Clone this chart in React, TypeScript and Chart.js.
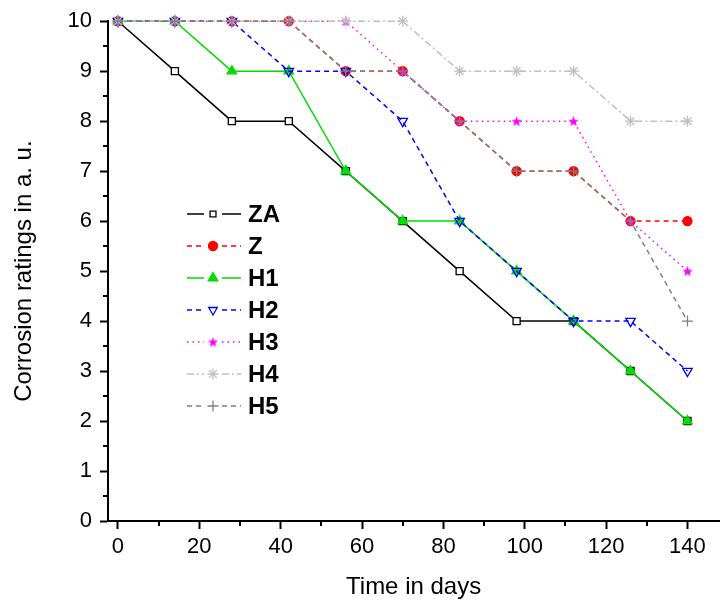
import React, { useEffect, useRef } from "react";
import { Chart, registerables } from "chart.js";
import { drawPoint } from "chart.js/helpers";

Chart.register(...registerables);

// ---- data ----
const days = [0, 14, 28, 42, 56, 70, 84, 98, 112, 126, 140];
const seriesNames = ["ZA", "Z", "H1", "H2", "H3", "H4", "H5"];
const za = [10, 9, 8, 8, 7, 6, 5, 4, 4, 3, 2];
const zz = [10, 10, 10, 10, 9, 9, 8, 7, 7, 6, 6];
const h1 = [10, 10, 9, 9, 7, 6, 6, 5, 4, 3, 2];
const h2 = [10, 10, 10, 9, 9, 8, 6, 5, 4, 4, 3];
const h3 = [10, 10, 10, 10, 10, 9, 8, 8, 8, 6, 5];
const h4 = [10, 10, 10, 10, 10, 10, 9, 9, 9, 8, 8];
const h5 = [10, 10, 10, 10, 9, 9, 8, 7, 7, 6, 4];
const seriesValues = [za, zz, h1, h2, h3, h4, h5];

const xTicks = [0, 20, 40, 60, 80, 100, 120, 140];
const xMinorTicks = [10, 30, 50, 70, 90, 110, 130];
const yTicks = [0, 1, 2, 3, 4, 5, 6, 7, 8, 9, 10];
const yMinorTicks = [0.5, 1.5, 2.5, 3.5, 4.5, 5.5, 6.5, 7.5, 8.5, 9.5];

const xTitle = "Time in days";
const yTitle = "Corrosion ratings in a. u.";

const FONT = "'Liberation Sans', Arial, Helvetica, sans-serif";

function makeStar(color: string, outer: number): HTMLCanvasElement {
  const size = Math.ceil(outer * 2 + 2);
  const c = document.createElement("canvas");
  c.width = size;
  c.height = size;
  const g = c.getContext("2d")!;
  const cx = size / 2;
  const cy = size / 2 + 0.5;
  const inner = outer * 0.42;
  g.beginPath();
  for (let i = 0; i < 10; i++) {
    const r = i % 2 === 0 ? outer : inner;
    const a = -Math.PI / 2 + (i * Math.PI) / 5;
    const px = cx + r * Math.cos(a);
    const py = cy + r * Math.sin(a);
    if (i === 0) g.moveTo(px, py);
    else g.lineTo(px, py);
  }
  g.closePath();
  g.fillStyle = color;
  g.fill();
  return c;
}

type Style = {
  color: string;
  dash: number[];
  pointStyle: any;
  radius: number;
  fill: string;
  rotation: number;
  legendRadius: number;
};

export default function App() {
  const ref = useRef<HTMLCanvasElement | null>(null);

  useEffect(() => {
    const canvas = ref.current;
    if (!canvas) return;

    const star = makeStar("#ff00ff", 5.5);
    const styles: Style[] = [
      { color: "#000000", dash: [], pointStyle: "rect", radius: 5, fill: "#ffffff", rotation: 0, legendRadius: 4.2 },
      { color: "#ff0000", dash: [5, 4], pointStyle: "circle", radius: 4.5, fill: "#ff0000", rotation: 0, legendRadius: 4.5 },
      { color: "#00dd00", dash: [], pointStyle: "triangle", radius: 5.5, fill: "#00dd00", rotation: 0, legendRadius: 5.5 },
      { color: "#0000ff", dash: [5, 4], pointStyle: "triangle", radius: 5.5, fill: "rgba(255,255,255,0)", rotation: 180, legendRadius: 5 },
      { color: "#ff00ff", dash: [1.5, 4], pointStyle: star, radius: 5.5, fill: "#ff00ff", rotation: 0, legendRadius: 5.5 },
      { color: "#c0c0c0", dash: [7, 3, 2, 3], pointStyle: "star", radius: 5.5, fill: "#c0c0c0", rotation: 0, legendRadius: 5.5 },
      { color: "#808080", dash: [5, 4], pointStyle: "cross", radius: 5.5, fill: "#808080", rotation: 0, legendRadius: 5.5 },
    ];

    const datasets = seriesNames.map((name, i) => ({
      label: name,
      data: days.map((d, k) => ({ x: d, y: seriesValues[i][k] })),
      borderColor: styles[i].color,
      backgroundColor: styles[i].fill,
      borderWidth: 1.5,
      borderDash: styles[i].dash,
      pointStyle: styles[i].pointStyle,
      pointRadius: styles[i].radius,
      pointRotation: styles[i].rotation,
      pointBorderColor: styles[i].color,
      pointBackgroundColor: styles[i].fill,
      pointBorderWidth: 1.3,
      pointHoverRadius: styles[i].radius,
      tension: 0,
      fill: false,
      clip: false as any,
      order: -i,
    }));

    const minorTicksPlugin = {
      id: "minorTicks",
      afterDraw(chart: any) {
        const ctx = chart.ctx;
        const xs = chart.scales.x;
        const ys = chart.scales.y;
        ctx.save();
        ctx.strokeStyle = "#000";
        ctx.lineWidth = 2;
        ctx.beginPath();
        for (const v of xMinorTicks) {
          const px = Math.round(xs.getPixelForValue(v));
          ctx.moveTo(px, ys.bottom);
          ctx.lineTo(px, ys.bottom + 5);
        }
        for (const v of yMinorTicks) {
          const py = Math.round(ys.getPixelForValue(v));
          ctx.moveTo(xs.left, py);
          ctx.lineTo(xs.left - 5, py);
        }
        ctx.stroke();
        ctx.restore();
      },
    };

    const legendPlugin = {
      id: "insideLegend",
      afterDraw(chart: any) {
        const ctx = chart.ctx;
        const lineL = 187;
        const lineR = 241;
        const mid = 213;
        const gap = 9;
        const textX = 248;
        const top = 214;
        const step = 32;
        ctx.save();
        chart.data.datasets.forEach((ds: any, i: number) => {
          const st = styles[i];
          const y = top + i * step;
          ctx.strokeStyle = st.color;
          ctx.lineWidth = 1.5;
          ctx.setLineDash(st.dash);
          ctx.beginPath();
          ctx.moveTo(lineL, y);
          ctx.lineTo(mid - gap, y);
          ctx.moveTo(mid + gap, y);
          ctx.lineTo(lineR, y);
          ctx.stroke();
          ctx.setLineDash([]);
          ctx.fillStyle = st.fill;
          ctx.strokeStyle = st.color;
          ctx.lineWidth = 1.3;
          drawPoint(ctx, {
            pointStyle: st.pointStyle,
            rotation: st.rotation,
            radius: st.legendRadius,
            borderWidth: 1.3,
          } as any, mid, y);
          ctx.fillStyle = "#000";
          ctx.font = `bold 24px ${FONT}`;
          ctx.textAlign = "left";
          ctx.textBaseline = "middle";
          ctx.fillText(ds.label, textX, y + 1);
        });
        ctx.restore();
      },
    };

    const chart = new Chart(canvas, {
      type: "line",
      data: { datasets: datasets as any },
      options: {
        responsive: false,
        animation: false,
        events: [],
        layout: { padding: { left: 0, top: 21, right: 2, bottom: 0 } },
        plugins: {
          legend: { display: false },
          tooltip: { enabled: false },
        },
        scales: {
          x: {
            type: "linear",
            min: -2.44,
            max: 147.8,
            afterBuildTicks: (scale: any) => {
              scale.ticks = xTicks.map((v) => ({ value: v }));
            },
            afterFit: (scale: any) => {
              scale.height = 87;
            },
            border: { display: true, color: "#000", width: 2 },
            grid: {
              display: true,
              drawOnChartArea: false,
              drawTicks: true,
              tickLength: 8,
              tickWidth: 2,
              tickColor: "#000",
            },
            ticks: {
              autoSkip: false,
              maxRotation: 0,
              padding: 5,
              color: "#000",
              font: { family: FONT, size: 22 },
            },
            title: {
              display: true,
              text: xTitle,
              color: "#000",
              font: { family: FONT, size: 24 },
              padding: { top: 0, bottom: 6 },
            },
          },
          y: {
            type: "linear",
            min: 0,
            max: 10,
            afterBuildTicks: (scale: any) => {
              scale.ticks = yTicks.map((v) => ({ value: v }));
            },
            afterFit: (scale: any) => {
              scale.width = 108;
            },
            border: { display: true, color: "#000", width: 2 },
            grid: {
              display: true,
              drawOnChartArea: false,
              drawTicks: true,
              tickLength: 8,
              tickWidth: 2,
              tickColor: "#000",
            },
            ticks: {
              autoSkip: false,
              padding: 8,
              color: "#000",
              font: { family: FONT, size: 22 },
            },
            title: {
              display: true,
              text: yTitle,
              color: "#000",
              font: { family: FONT, size: 24 },
              padding: { top: 10, bottom: 0 },
            },
          },
        },
      },
      plugins: [minorTicksPlugin, legendPlugin],
    });

    return () => {
      chart.destroy();
    };
  }, []);

  return (
    <div style={{ position: "fixed", left: 0, top: 0, width: 726, height: 608, background: "#fff" }}>
      <canvas ref={ref} width={726} height={608} style={{ width: 726, height: 608, display: "block" }} />
    </div>
  );
}
